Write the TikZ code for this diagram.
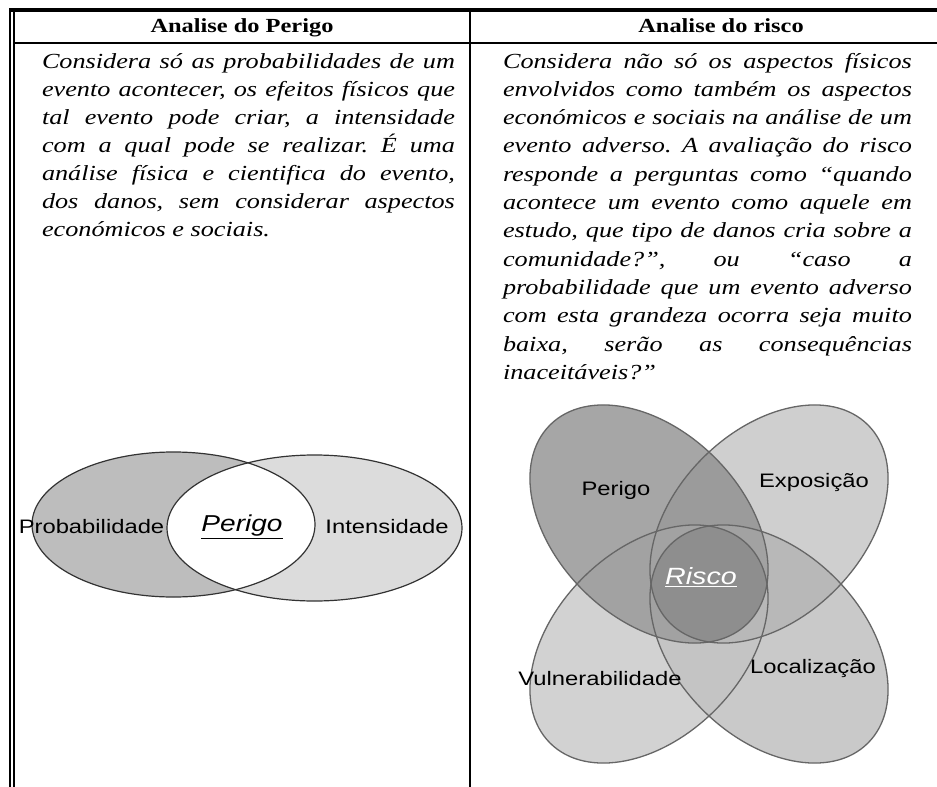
\documentclass[tikz,border=0pt]{standalone}
\usepackage{fontspec}
\usepackage{graphicx}
\setmainfont{Liberation Serif}
\newfontfamily\arialf{Liberation Sans}
\frenchspacing
\newcommand\xs[1]{\scalebox{1.22}[1]{#1}}
\newcommand\jl[1]{\makebox[\linewidth][s]{#1}\\}
\definecolor{probgray}{HTML}{BDBDBD}
\definecolor{intgray}{HTML}{DCDCDC}
\definecolor{cPer}{HTML}{A6A6A6}
\definecolor{cExp}{HTML}{CFCFCF}
\definecolor{cVul}{HTML}{D2D2D2}
\definecolor{cLoc}{HTML}{C9C9C9}
\definecolor{cPE}{HTML}{9B9B9B}
\definecolor{cPV}{HTML}{A2A2A2}
\definecolor{cEL}{HTML}{B8B8B8}
\definecolor{cVL}{HTML}{C4C4C4}
\definecolor{cCen}{HTML}{8E8E8E}
\begin{document}
\begin{tikzpicture}[x=1pt,y=-1pt,
  vline/.style={draw=black!80, line width=1.2pt},
  pline/.style={draw=black!60, line width=1.3pt},
  body/.style={anchor=base west, inner sep=0, outer sep=0},
  head/.style={anchor=base, inner sep=0, outer sep=0},
  lab/.style={inner sep=0, outer sep=0, font=\arialf\fontsize{19.5pt}{22pt}\selectfont},
  rP/.style={rotate around={-45:(649,524)}},
  rE/.style={rotate around={45:(769,524)}},
  rV/.style={rotate around={45:(649,644)}},
  rL/.style={rotate around={-45:(769,644)}}]
\useasboundingbox (0,0) rectangle (937,787);
\fill[white] (0,0) rectangle (937,787);

% table rules
\draw[line width=3.4pt] (9,10) -- (937,10);
\draw[line width=1.7pt] (9.8,8.5) -- (9.8,787);
\draw[line width=1.7pt] (13.7,11.7) -- (13.7,787);
\draw[line width=2pt] (13.7,42.7) -- (937,42.7);
\draw[line width=2pt] (470,10) -- (470,787);

% headers
\node[head] (lhead) at (242,32) {\xs{\fontsize{20pt}{24pt}\selectfont\bfseries Analise do Perigo}};
\node[head] (rhead) at (721,32) {\xs{\fontsize{20pt}{24pt}\selectfont\bfseries Analise do risco}};

% body texts
\node[body] (ltext) at (42,68) {\xs{\begin{minipage}[t]{338.5pt}\fontsize{21.5pt}{28pt}\selectfont\itshape
\jl{Considera só as probabilidades de um}
\jl{evento acontecer, os efeitos físicos que}
\jl{tal evento pode criar, a intensidade}
\jl{com a qual pode se realizar. É uma}
\jl{análise física e cientifica do evento,}
\jl{dos danos, sem considerar aspectos}
económicos e sociais.
\end{minipage}}};

\node[body] (rtext) at (503,68) {\xs{\begin{minipage}[t]{335.2pt}\fontsize{21.5pt}{28.3pt}\selectfont\itshape
\jl{Considera não só os aspectos físicos}
\jl{envolvidos como também os aspectos}
\jl{económicos e sociais na análise de um}
\jl{evento adverso. A avaliação do risco}
\jl{responde a perguntas como “quando}
\jl{acontece um evento como aquele em}
\jl{estudo, que tipo de danos cria sobre a}
\jl{comunidade?”, ou “caso a}
\jl{probabilidade que um evento adverso}
\jl{com esta grandeza ocorra seja muito}
\jl{baixa, serão as consequências}
inaceitáveis?”
\end{minipage}}};

% left Venn
\fill[probgray] (173.5,524.5) ellipse [x radius=141.5, y radius=72.5];
\fill[intgray] (314.5,528) ellipse [x radius=147.5, y radius=73];
\begin{scope}
  \clip (173.5,524.5) ellipse [x radius=141.5, y radius=72.5];
  \fill[white] (314.5,528) ellipse [x radius=147.5, y radius=73];
\end{scope}
\draw[vline] (173.5,524.5) ellipse [x radius=141.5, y radius=72.5];
\draw[vline] (314.5,528) ellipse [x radius=147.5, y radius=73];

\node[lab] (prob) at (91.5,527) {\xs{Probabilidade}};
\node[lab] (inten) at (387,527) {\xs{Intensidade}};
\node[inner sep=0, outer sep=0] (lper) at (242,527) {\xs{\arialf\itshape\fontsize{23pt}{26pt}\selectfont\underline{Perigo}}};

% right Venn: base fills
\fill[cExp, rE] (769,524) ellipse [x radius=140, y radius=93.5];
\fill[cVul, rV] (649,644) ellipse [x radius=140, y radius=93.5];
\fill[cLoc, rL] (769,644) ellipse [x radius=140, y radius=93.5];
\begin{scope}
  \clip[rV] (649,644) ellipse [x radius=140, y radius=93.5];
  \fill[cVL, rL] (769,644) ellipse [x radius=140, y radius=93.5];
\end{scope}
\begin{scope}
  \clip[rE] (769,524) ellipse [x radius=140, y radius=93.5];
  \fill[cEL, rL] (769,644) ellipse [x radius=140, y radius=93.5];
  \fill[cEL, rV] (649,644) ellipse [x radius=140, y radius=93.5];
\end{scope}
\fill[cPer, rP] (649,524) ellipse [x radius=140, y radius=93.5];
\begin{scope}
  \clip[rP] (649,524) ellipse [x radius=140, y radius=93.5];
  \fill[cPE, rE] (769,524) ellipse [x radius=140, y radius=93.5];
  \fill[cPV, rV] (649,644) ellipse [x radius=140, y radius=93.5];
  \fill[cPV, rL] (769,644) ellipse [x radius=140, y radius=93.5];
\end{scope}
\begin{scope}
  \clip[rP] (649,524) ellipse [x radius=140, y radius=93.5];
  \clip[rE] (769,524) ellipse [x radius=140, y radius=93.5];
  \clip[rV] (649,644) ellipse [x radius=140, y radius=93.5];
  \fill[cCen, rL] (769,644) ellipse [x radius=140, y radius=93.5];
\end{scope}
\draw[pline, rP] (649,524) ellipse [x radius=140, y radius=93.5];
\draw[pline, rE] (769,524) ellipse [x radius=140, y radius=93.5];
\draw[pline, rV] (649,644) ellipse [x radius=140, y radius=93.5];
\draw[pline, rL] (769,644) ellipse [x radius=140, y radius=93.5];

\node[lab] (rper) at (616,490) {\xs{Perigo}};
\node[lab] (rexp) at (814,482) {\xs{Exposição}};
\node[lab] (rvul) at (600,679) {\xs{Vulnerabilidade}};
\node[lab] (rloc) at (813,668) {\xs{Localização}};
\node[inner sep=0, outer sep=0, text=white] (risco) at (701,577) {\xs{\arialf\itshape\fontsize{23.5pt}{26pt}\selectfont\underline{Risco}}};
\end{tikzpicture}
\end{document}
